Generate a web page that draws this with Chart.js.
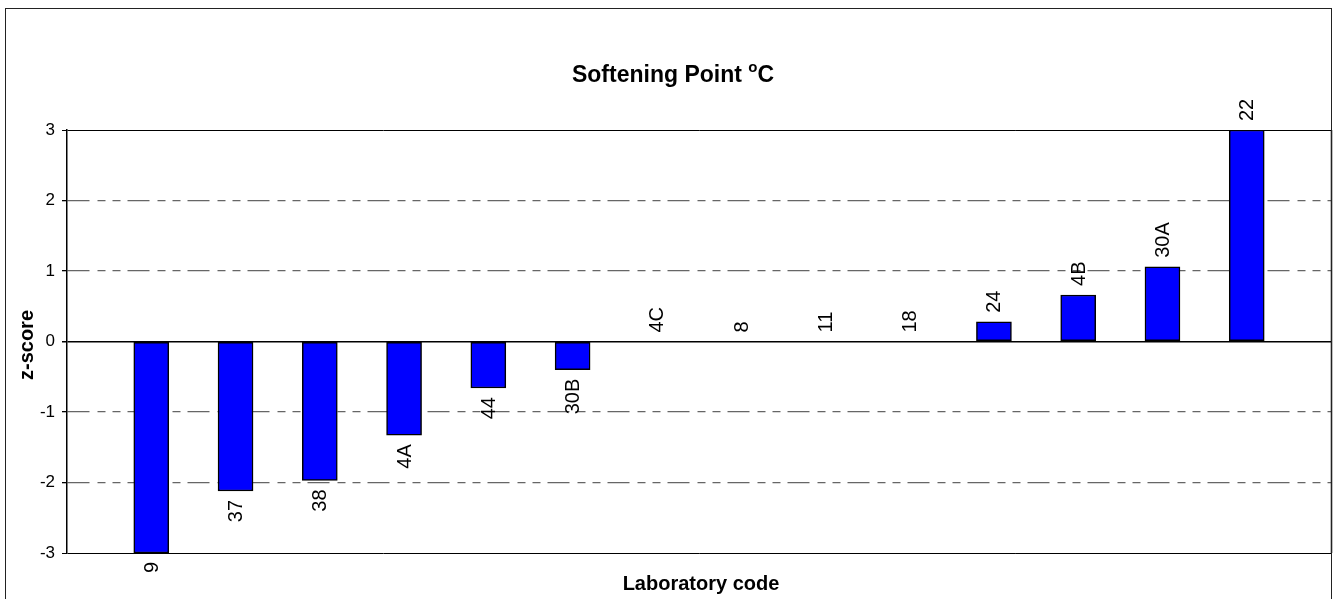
<!DOCTYPE html>
<html>
<head>
<meta charset="utf-8">
<title>Softening Point z-scores</title>
<script src="https://cdn.jsdelivr.net/npm/chart.js@4.4.1/dist/chart.umd.min.js"></script>
<style>
  html, body { margin: 0; padding: 0; background: #fff; }
  #wrap { width: 1334px; height: 599px; }
</style>
</head>
<body>
<div id="wrap"><canvas id="zChart" width="1334" height="599"></canvas></div>
<script>
// ===== Data =====
const categories = ['9', '37', '38', '4A', '44', '30B', '4C', '8', '11', '18', '24', '4B', '30A', '22'];
const zScores = [-3.0, -2.12, -1.97, -1.33, -0.66, -0.40, 0, 0, 0, 0, 0.28, 0.66, 1.06, 3.0];
const yTicks = [-3, -2, -1, 0, 1, 2, 3];
const dashedAt = [-2, -1, 1, 2];

const FONT = '"Liberation Sans", Arial, sans-serif';

// empty slot at each end, like the original sheet
const labels = [''].concat(categories, ['']);
const values = [null].concat(zScores, [null]);

// ===== Text + frame plugin =====
const frameAndText = {
    id: 'frameAndText',
    afterDatasetsDraw(chart) {
        const ctx = chart.ctx;
        const meta = chart.getDatasetMeta(0);
        ctx.save();
        ctx.font = '20px ' + FONT;
        ctx.fillStyle = '#000';
        ctx.textBaseline = 'middle';
        meta.data.forEach((bar, i) => {
            const v = values[i];
            if (v === null) return;
            ctx.save();
            if (v < 0) {
                ctx.translate(bar.x, bar.y + 9);
                ctx.rotate(-Math.PI / 2);
                ctx.textAlign = 'right';
            } else {
                ctx.translate(bar.x, bar.y - 9);
                ctx.rotate(-Math.PI / 2);
                ctx.textAlign = 'left';
            }
            ctx.fillText(labels[i], 0, 1);
            ctx.restore();
        });
        ctx.restore();
    },
    afterDraw(chart) {
        const ctx = chart.ctx;
        const area = chart.chartArea;
        ctx.save();

        // plot right edge + outer border
        ctx.strokeStyle = '#000';
        ctx.lineWidth = 1.5;
        ctx.beginPath();
        ctx.moveTo(Math.round(area.right) + 0.5, area.top);
        ctx.lineTo(Math.round(area.right) + 0.5, area.bottom);
        ctx.stroke();
        ctx.lineWidth = 1;
        ctx.strokeStyle = '#222';
        ctx.strokeRect(5.5, 8.5, 1326, 600);

        // title with superscript o
        const main = 'Softening Point ';
        ctx.fillStyle = '#000';
        ctx.textBaseline = 'alphabetic';
        ctx.textAlign = 'left';
        ctx.font = 'bold 23px ' + FONT;
        const w1 = ctx.measureText(main).width;
        const wC = ctx.measureText('C').width;
        ctx.font = 'bold 15px ' + FONT;
        const wO = ctx.measureText('o').width;
        const total = w1 + wO + wC;
        let x = 673 - total / 2;
        ctx.font = 'bold 23px ' + FONT;
        ctx.fillText(main, x, 82);
        x += w1;
        ctx.font = 'bold 15px ' + FONT;
        ctx.fillText('o', x, 72);
        x += wO;
        ctx.font = 'bold 23px ' + FONT;
        ctx.fillText('C', x, 82);

        // axis titles
        ctx.font = 'bold 20px ' + FONT;
        ctx.textAlign = 'center';
        ctx.fillText('Laboratory code', 701, 590);
        ctx.save();
        ctx.translate(33, 345);
        ctx.rotate(-Math.PI / 2);
        ctx.fillText('z-score', 0, 0);
        ctx.restore();

        ctx.restore();
    }
};

// ===== Chart =====
new Chart(document.getElementById('zChart'), {
    type: 'bar',
    data: {
        labels: labels,
        datasets: [{
            data: values,
            backgroundColor: '#0000FF',
            borderColor: '#000',
            borderWidth: 1.5,
            borderSkipped: false,
            barThickness: 35
        }]
    },
    options: {
        responsive: false,
        animation: false,
        layout: { padding: { top: 130, right: 3, left: 0, bottom: 0 } },
        plugins: {
            legend: { display: false },
            tooltip: { enabled: false },
            title: { display: false }
        },
        scales: {
            x: {
                type: 'category',
                offset: false,
                grid: { display: false },
                ticks: { display: false },
                border: { display: false },
                afterFit: (s) => { s.height = 46; }
            },
            y: {
                min: -3,
                max: 3,
                afterBuildTicks: (s) => { s.ticks = yTicks.map(v => ({ value: v })); },
                afterFit: (s) => { s.width = 67; },
                ticks: {
                    color: '#000',
                    font: { family: FONT, size: 17 },
                    padding: 7
                },
                grid: {
                    color: (c) => (c.tick && dashedAt.includes(c.tick.value)) ? '#666' : '#000',
                    lineWidth: (c) => (c.tick && c.tick.value === 0) ? 1.5 : (c.tick && dashedAt.includes(c.tick.value) ? 1.3 : 1),
                    tickColor: '#000',
                    tickLength: 5,
                    tickBorderDash: []
                },
                border: {
                    display: true,
                    color: '#000',
                    width: 1.5,
                    dash: (c) => (c.tick && dashedAt.includes(c.tick.value)) ? [22, 8, 8, 7, 8, 7] : []
                }
            }
        }
    },
    plugins: [frameAndText]
});
</script>
</body>
</html>
